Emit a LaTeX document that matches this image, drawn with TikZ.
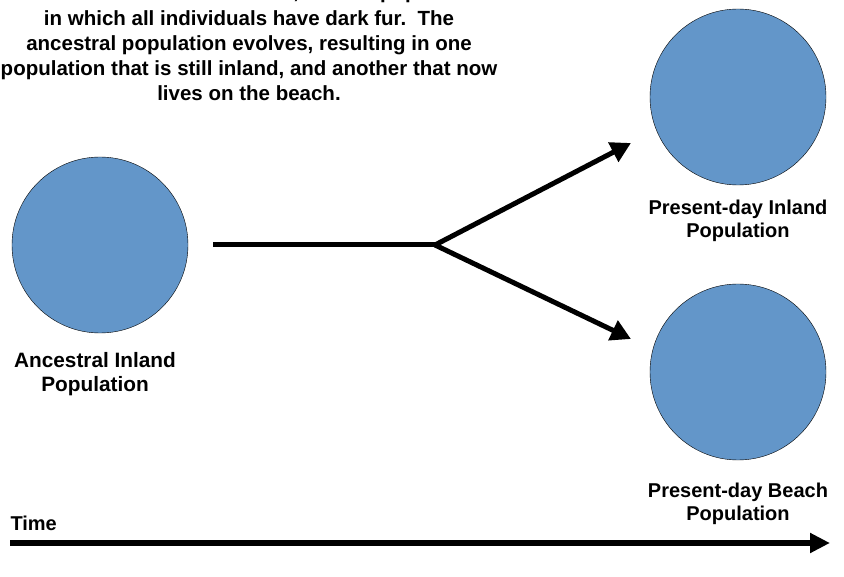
\documentclass[tikz,border=0pt]{standalone}
\usepackage{fontspec}
\setmainfont{Liberation Sans}
\usepackage{tikz}
\usetikzlibrary{arrows.meta,positioning,calc}
\definecolor{popblue}{RGB}{99,150,201}
\tikzset{pop/.style={circle,draw=black,thin,fill=popblue,minimum size=176pt,inner sep=0pt},
         poplabel/.style={align=center,font=\fontsize{20}{23.5}\selectfont\bfseries},
         branch/.style={line width=5pt,-{Triangle[length=20pt,width=21pt]}}}

\begin{document}
\begin{tikzpicture}[x=1pt,y=-1pt]
\useasboundingbox (0,0) rectangle (844,577);

\node[poplabel,anchor=north,font=\fontsize{20.5}{25}\selectfont\bfseries] (story) at (249,-19.5)
  {There once lived inland mice, a small population\\[1.5pt]
   in which all individuals have dark fur.\ \ The\\
   ancestral population evolves, resulting in one\\
   population that is still inland, and another that now\\
   lives on the beach.};

\node[pop] (anc) at (100,245) {};
\node[pop] (inl) at (738,97) {};
\node[pop] (bch) at (738,372) {};

\node[poplabel,font=\fontsize{20.8}{23.5}\selectfont\bfseries] (anclab) at (95,374) {Ancestral Inland\\Population};
\node[poplabel] (inllab) at (738,221) {Present-day Inland\\Population};
\node[poplabel] (bchlab) at (738,504) {Present-day Beach\\Population};

\coordinate (start) at (213,245);
\coordinate (split) at (435,245);
\coordinate (uptip) at (631,143);
\coordinate (dntip) at (631,339);

\draw[line width=5pt] (start) -- (split);
\draw[branch] (split) -- (uptip);
\draw[branch] (split) -- (dntip);

\node[poplabel,anchor=west] (time) at (7,523) {Time};
\coordinate (t0) at (10,543);
\coordinate (t1) at (830,543);
\draw[line width=6pt,-{Triangle[length=20pt,width=19pt]}] (t0) -- (t1);
\end{tikzpicture}
\end{document}
